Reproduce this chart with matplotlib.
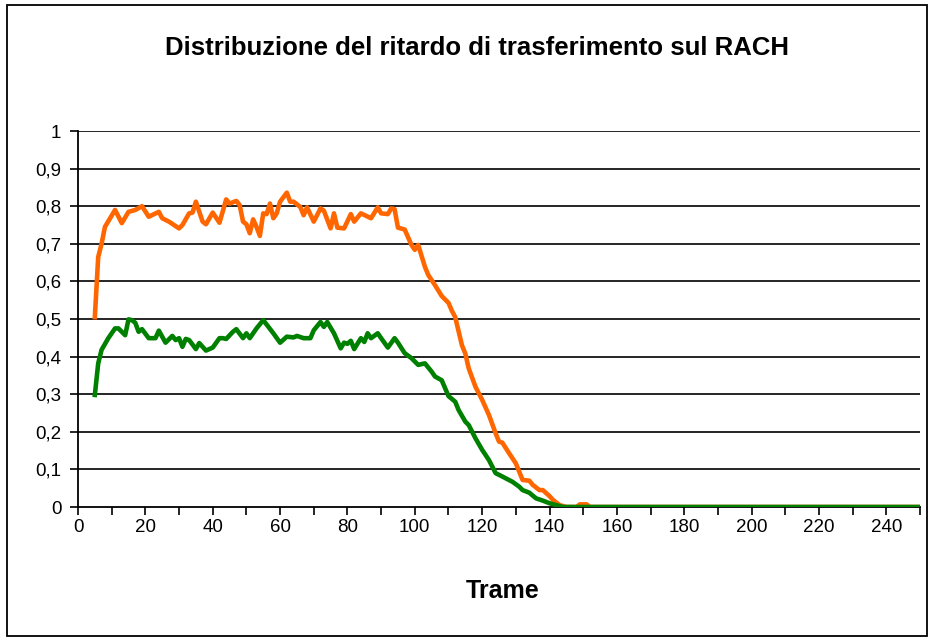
import matplotlib
matplotlib.use("Agg")
import matplotlib.pyplot as plt
from matplotlib.patches import Rectangle
from matplotlib.ticker import MultipleLocator, FixedLocator, FuncFormatter
from matplotlib import font_manager

plt.rcParams['font.family'] = ['Liberation Sans', 'DejaVu Sans']

title = "Distribuzione del ritardo di trasferimento sul RACH"
xlabel = "Trame"

orange_x = [5, 6, 7, 8, 9, 11, 13, 15, 17, 19, 21, 24, 25, 27, 30, 31, 33, 34, 35, 37,
            38, 40, 42, 44, 45, 47, 48, 49, 50, 51, 52, 53, 54, 55, 56, 57, 58, 59, 60, 62,
            63, 64, 66, 67, 68, 70, 72, 73, 75, 76, 77, 79, 81, 82, 84, 87, 89, 90, 92, 93,
            94, 95, 97, 99, 100, 101, 103, 104, 106, 108, 110, 111, 112, 114, 115, 116, 118, 120, 122, 124,
            125, 126, 128, 130, 131, 132, 134, 135, 137, 138, 140, 141, 143, 145, 148, 149, 151, 152, 250]
orange_y = [0.505, 0.665, 0.70, 0.745, 0.76, 0.79, 0.755, 0.785, 0.79, 0.80, 0.772, 0.785, 0.768, 0.759, 0.741, 0.75, 0.781, 0.783, 0.812, 0.759,
            0.752, 0.783, 0.756, 0.818, 0.807, 0.814, 0.803, 0.759, 0.752, 0.728, 0.765, 0.745, 0.721, 0.781, 0.779, 0.807, 0.768, 0.781, 0.812, 0.836,
            0.812, 0.812, 0.798, 0.776, 0.797, 0.759, 0.794, 0.788, 0.741, 0.781, 0.743, 0.741, 0.779, 0.759, 0.781, 0.768, 0.797, 0.781, 0.779, 0.794,
            0.792, 0.743, 0.738, 0.697, 0.684, 0.697, 0.639, 0.617, 0.590, 0.561, 0.543, 0.522, 0.505, 0.43, 0.408, 0.369, 0.32, 0.285, 0.245, 0.196,
            0.174, 0.171, 0.143, 0.116, 0.094, 0.072, 0.070, 0.059, 0.045, 0.045, 0.029, 0.019, 0.005, 0.0, 0.0, 0.007, 0.007, 0.0, 0.0]

green_x = [5, 6, 7, 9, 11, 12, 14, 15, 16, 17, 18, 19, 21, 23, 24, 26, 28, 29, 30, 31,
           32, 33, 35, 36, 38, 40, 42, 43, 44, 46, 47, 49, 50, 51, 53, 55, 58, 60, 62, 64,
           65, 67, 69, 70, 72, 73, 74, 76, 78, 79, 80, 81, 82, 84, 85, 86, 87, 89, 90, 92,
           94, 95, 97, 99, 101, 103, 105, 106, 108, 110, 112, 113, 115, 116, 118, 120, 122, 124, 126, 129,
           131, 132, 134, 136, 138, 140, 142, 144, 250]
green_y = [0.298, 0.382, 0.418, 0.449, 0.475, 0.475, 0.457, 0.499, 0.497, 0.49, 0.466, 0.473, 0.449, 0.449, 0.469, 0.437, 0.455, 0.444, 0.449, 0.426,
           0.447, 0.444, 0.42, 0.436, 0.416, 0.424, 0.449, 0.449, 0.447, 0.466, 0.473, 0.449, 0.462, 0.449, 0.475, 0.497, 0.462, 0.437, 0.453, 0.451,
           0.455, 0.449, 0.449, 0.47, 0.492, 0.479, 0.492, 0.462, 0.422, 0.437, 0.434, 0.442, 0.42, 0.449, 0.439, 0.462, 0.449, 0.462, 0.449, 0.424,
           0.449, 0.437, 0.409, 0.396, 0.378, 0.382, 0.36, 0.347, 0.337, 0.295, 0.28, 0.258, 0.227, 0.218, 0.183, 0.152, 0.125, 0.09, 0.081, 0.067,
           0.054, 0.045, 0.038, 0.023, 0.017, 0.01, 0.005, 0.0, 0.0]

x_ticklabels = [0, 20, 40, 60, 80, 100, 120, 140, 160, 180, 200, 220, 240]
y_ticks = [0, 0.1, 0.2, 0.3, 0.4, 0.5, 0.6, 0.7, 0.8, 0.9, 1.0]

names = sorted({f.name for f in font_manager.fontManager.ttflist})
narrow = 'Liberation Sans Narrow' if 'Liberation Sans Narrow' in names else 'Liberation Sans'
print(narrow)

W, H = 932, 641
fig = plt.figure(figsize=(W / 100, H / 100), dpi=100)
fig.patch.set_facecolor('white')

# figure border
fig.patches.append(Rectangle((7 / W, 5 / H), (927 - 7) / W, (636 - 5) / H,
                             transform=fig.transFigure, fill=False,
                             edgecolor='black', linewidth=1.3))

left, right, top, bottom = 78, 920, 131, 507
ax = fig.add_axes([left / W, (H - bottom) / H, (right - left) / W, (bottom - top) / H])

ax.plot(orange_x, orange_y, color='#FF6600', linewidth=3.3, solid_joinstyle='round', zorder=3)
ax.plot(green_x, green_y, color='#008000', linewidth=3.3, solid_joinstyle='round', zorder=4)

ax.set_xlim(0, 250)
ax.set_ylim(0, 1)

ax.xaxis.set_major_locator(FixedLocator(x_ticklabels))
ax.xaxis.set_minor_locator(MultipleLocator(10))
ax.set_yticks(y_ticks)
ax.yaxis.set_major_formatter(FuncFormatter(lambda v, p: ('%g' % round(v, 1)).replace('.', ',')))

for yv in y_ticks[1:]:
    ax.axhline(yv, color='black', linewidth=1.2, zorder=1)

for s in ['top', 'right']:
    ax.spines[s].set_visible(False)
for s in ['left', 'bottom']:
    ax.spines[s].set_linewidth(1.3)

ax.tick_params(axis='both', which='both', direction='out', length=6, width=1.2, labelsize=13.5, colors='black')
ax.tick_params(axis='x', which='major', pad=3)
ax.tick_params(axis='y', which='major', pad=6)

if narrow == 'Liberation Sans Narrow':
    tsize, lsize = 21, 20
else:
    tsize, lsize = 18.5, 18
fig.text(477 / W, 1 - 48 / H, title, ha='center', va='center', fontsize=tsize,
         fontweight='bold', family=[narrow, 'DejaVu Sans'])
fig.text(503 / W, 1 - 591 / H, xlabel, ha='center', va='center', fontsize=lsize,
         fontweight='bold', family=[narrow, 'DejaVu Sans'])

fig.savefig('out.png', dpi=100, facecolor='white')
